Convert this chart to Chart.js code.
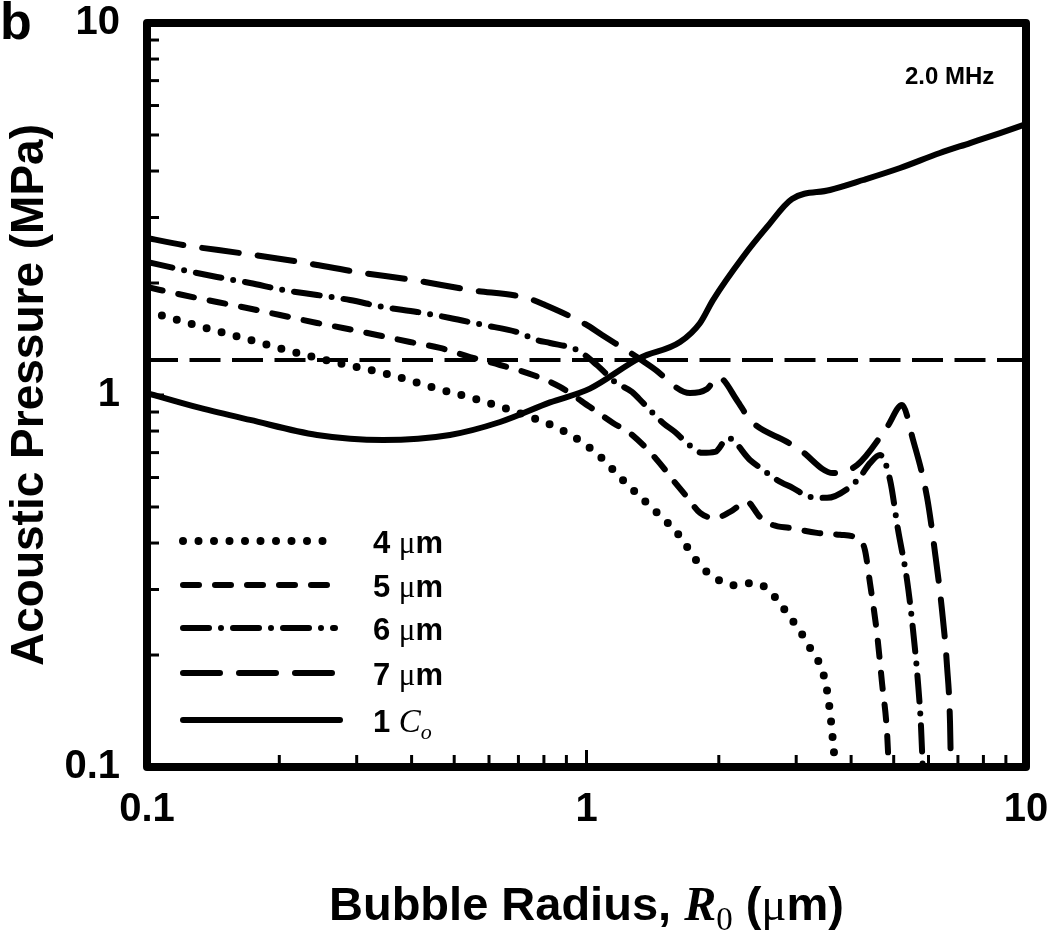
<!DOCTYPE html>
<html>
<head>
<meta charset="utf-8">
<script src="https://cdn.jsdelivr.net/npm/chart.js@4.4.1/dist/chart.umd.min.js"></script>
<style>
  html, body { margin: 0; padding: 0; background: #fff; }
  canvas { display: block; }
</style>
</head>
<body>
<canvas id="chart" width="1050" height="935"></canvas>
<script>
// tick values
const majorTicks = [0.1, 1, 10];
const minorTicks = [0.2, 0.3, 0.4, 0.5, 0.6, 0.7, 0.8, 0.9, 2, 3, 4, 5, 6, 7, 8, 9];

// 4 um (dotted)
const r4 = [0.1, 0.1286, 0.1653, 0.2115, 0.2720, 0.3516, 0.4521, 0.5784, 0.7437, 0.8796, 1.045, 1.224, 1.409, 1.607, 1.813, 1.961, 2.177, 2.355, 2.508, 2.904, 3.225, 3.489, 3.581, 3.638, 3.696];
const p4 = [1.681, 1.543, 1.423, 1.313, 1.219, 1.139, 1.044, 0.964, 0.873, 0.805, 0.703, 0.583, 0.497, 0.426, 0.349, 0.322, 0.308, 0.312, 0.308, 0.253, 0.209, 0.171, 0.141, 0.117, 0.095];

// 5 um (short dash)
const r5 = [0.1, 0.1207, 0.1443, 0.1689, 0.2007, 0.2437, 0.2792, 0.3336, 0.3967, 0.4642, 0.5432, 0.6357, 0.7556, 0.8706, 1.019, 1.149, 1.256, 1.447, 1.573, 1.693, 1.813, 1.961, 2.121, 2.319, 2.482, 2.657, 2.904, 3.345, 3.774, 4.19, 4.30, 4.416, 4.58, 4.704, 4.83, 4.88];
const p5 = [1.951, 1.857, 1.778, 1.714, 1.641, 1.562, 1.514, 1.450, 1.388, 1.338, 1.265, 1.204, 1.132, 1.051, 0.928, 0.841, 0.790, 0.669, 0.591, 0.532, 0.482, 0.467, 0.485, 0.516, 0.470, 0.447, 0.439, 0.426, 0.421, 0.408, 0.383, 0.312, 0.229, 0.168, 0.123, 0.095];

// 6 um (dash-dot)
const r6 = [0.1, 0.1207, 0.1443, 0.1716, 0.2039, 0.2437, 0.2897, 0.3443, 0.4115, 0.4891, 0.5814, 0.695, 0.7716, 0.826, 0.951, 1.056, 1.161, 1.269, 1.345, 1.493, 1.590, 1.693, 1.832, 1.961, 2.099, 2.355, 2.521, 2.713, 2.951, 3.225, 3.526, 3.977, 4.19, 4.416, 4.655, 4.905, 5.115, 5.362, 5.534, 5.68, 5.77, 5.83];
const p6 = [2.278, 2.168, 2.076, 2.0, 1.916, 1.857, 1.800, 1.724, 1.672, 1.611, 1.543, 1.477, 1.405, 1.380, 1.321, 1.204, 1.084, 1.019, 0.952, 0.841, 0.795, 0.743, 0.699, 0.703, 0.766, 0.669, 0.629, 0.591, 0.562, 0.532, 0.529, 0.566, 0.602, 0.656, 0.690, 0.591, 0.434, 0.318, 0.233, 0.168, 0.128, 0.095];

// 7 um (long dash)
const r7 = [0.1, 0.1207, 0.1627, 0.2229, 0.3005, 0.4030, 0.5432, 0.732, 0.805, 0.992, 1.085, 1.302, 1.417, 1.720, 1.880, 1.992, 2.212, 2.355, 2.859, 3.060, 3.638, 4.126, 4.83, 5.224, 5.534, 5.953, 6.21, 6.44, 6.613, 6.717, 6.75];
const p7 = [2.642, 2.531, 2.408, 2.278, 2.141, 2.038, 1.916, 1.823, 1.746, 1.552, 1.450, 1.265, 1.182, 1.012, 1.038, 1.118, 0.958, 0.857, 0.748, 0.712, 0.617, 0.648, 0.820, 0.940, 0.757, 0.532, 0.376, 0.264, 0.186, 0.131, 0.095];

// 1 Co (solid)
const rCo = [0.1, 0.132, 0.1716, 0.2437, 0.3443, 0.489, 0.636, 0.826, 1.018, 1.323, 1.632, 1.813, 1.940, 2.270, 2.575, 2.935, 3.581, 4.26, 5.17, 6.37, 7.46, 8.73, 10];
const pCo = [1.012, 0.923, 0.857, 0.781, 0.757, 0.781, 0.846, 0.955, 1.04, 1.258, 1.388, 1.562, 1.80, 2.35, 2.83, 3.365, 3.557, 3.784, 4.076, 4.473, 4.757, 5.06, 5.35];

// threshold (long thin dashes)
const rThr = [0.1, 10];
const pThr = [1.242, 1.242];

const legendNames = ['4', '5', '6', '7', '1'];

const SANS = '"Liberation Sans", Arial, sans-serif';
const SERIF = '"Liberation Serif", "Times New Roman", serif';

function pts(xs, ys) {
  return xs.map((x, i) => ({ x: x, y: ys[i] }));
}

// draws a row of text pieces with different fonts
function drawRuns(ctx, runs, x, y, align) {
  let total = 0;
  runs.forEach(r => { ctx.font = r.font; total += ctx.measureText(r.text).width; });
  let cx = align === 'center' ? x - total / 2 : x;
  ctx.textAlign = 'left';
  ctx.textBaseline = 'alphabetic';
  runs.forEach(r => {
    ctx.font = r.font;
    ctx.fillText(r.text, cx, y + (r.dy || 0));
    cx += ctx.measureText(r.text).width;
  });
}

const framePlugin = {
  id: 'frame',
  afterDraw(chart) {
    const { ctx, chartArea: a } = chart;
    const xs = chart.scales.x, ys = chart.scales.y;
    ctx.save();
    ctx.strokeStyle = '#000';
    ctx.fillStyle = '#000';

    // inward ticks on left and bottom
    ctx.lineWidth = 3;
    ctx.lineCap = 'butt';
    ctx.setLineDash([]);
    const tick = (x1, y1, x2, y2) => { ctx.beginPath(); ctx.moveTo(x1, y1); ctx.lineTo(x2, y2); ctx.stroke(); };
    minorTicks.forEach(v => {
      const px = xs.getPixelForValue(v);
      tick(px, a.bottom, px, a.bottom - 12);
      const py = ys.getPixelForValue(v);
      tick(a.left, py, a.left + 12, py);
    });
    majorTicks.forEach(v => {
      const px = xs.getPixelForValue(v);
      tick(px, a.bottom, px, a.bottom - 17);
      const py = ys.getPixelForValue(v);
      tick(a.left, py, a.left + 17, py);
    });

    // frame
    ctx.lineWidth = 8;
    ctx.lineJoin = 'round';
    ctx.strokeRect(a.left, a.top, a.right - a.left, a.bottom - a.top);

    // legend
    const rows = [541, 585, 628, 673, 720];
    chart.data.datasets.slice(0, 5).forEach((ds, i) => {
      ctx.lineWidth = ds.borderWidth;
      ctx.lineCap = 'round';
      ctx.setLineDash(ds.borderDash || []);
      ctx.beginPath();
      ctx.moveTo(183, rows[i]);
      ctx.lineTo(i < 3 ? 335 : 340, rows[i]);
      ctx.stroke();
    });
    ctx.setLineDash([]);
    const bold = 'bold 31px ' + SANS;
    legendNames.forEach((n, i) => {
      const base = rows[i] + 12;
      if (i < 4) {
        drawRuns(ctx, [
          { text: n + ' ', font: bold },
          { text: 'μ', font: '31px ' + SERIF },
          { text: 'm', font: bold }
        ], 373, base, 'left');
      } else {
        drawRuns(ctx, [
          { text: n + ' ', font: bold },
          { text: 'C', font: 'italic 33px ' + SERIF },
          { text: 'o', font: 'italic 22px ' + SERIF, dy: 7 }
        ], 373, base, 'left');
      }
    });

    // frequency label
    ctx.font = 'bold 24px ' + SANS;
    ctx.textAlign = 'left';
    ctx.textBaseline = 'alphabetic';
    ctx.fillText('2.0 MHz', 905, 84);

    // panel letter
    ctx.font = 'bold 52px ' + SANS;
    ctx.fillText('b', 0, 39);

    // x title
    const xb = 'bold 47px ' + SANS;
    drawRuns(ctx, [
      { text: 'Bubble Radius, ', font: xb },
      { text: 'R', font: 'italic bold 48px ' + SERIF },
      { text: '0', font: '33px ' + SERIF, dy: 10 },
      { text: ' (', font: xb },
      { text: 'μ', font: '47px ' + SERIF },
      { text: 'm)', font: xb }
    ], (a.left + a.right) / 2, 920, 'center');

    // y title
    ctx.save();
    ctx.translate(43, (a.top + a.bottom) / 2);
    ctx.rotate(-Math.PI / 2);
    ctx.font = 'bold 46px ' + SANS;
    ctx.textAlign = 'center';
    ctx.textBaseline = 'alphabetic';
    ctx.fillText('Acoustic Pressure (MPa)', 0, 0);
    ctx.restore();

    ctx.restore();
  }
};

const tickFont = { family: SANS, size: 40, weight: 'bold', lineHeight: 1.15 };

new Chart(document.getElementById('chart'), {
  type: 'line',
  data: {
    datasets: [
      { label: '4 μm', data: pts(r4, p4), borderColor: '#000', borderWidth: 8, borderDash: [0, 15.5] },
      { label: '5 μm', data: pts(r5, p5), borderColor: '#000', borderWidth: 6, borderDash: [16, 16] },
      { label: '6 μm', data: pts(r6, p6), borderColor: '#000', borderWidth: 6, borderDash: [26, 12, 0, 12] },
      { label: '7 μm', data: pts(r7, p7), borderColor: '#000', borderWidth: 6, borderDash: [37, 19] },
      { label: '1 Co', data: pts(rCo, pCo), borderColor: '#000', borderWidth: 6 },
      { label: 'threshold', data: pts(rThr, pThr), borderColor: '#000', borderWidth: 4, borderDash: [31, 11.5], borderCapStyle: 'butt' }
    ]
  },
  options: {
    responsive: false,
    animation: false,
    layout: { padding: { top: 23, right: 24, left: 0, bottom: 0 } },
    plugins: { legend: { display: false }, tooltip: { enabled: false } },
    elements: {
      point: { radius: 0 },
      line: { cubicInterpolationMode: 'monotone', borderCapStyle: 'round', borderJoinStyle: 'round', fill: false }
    },
    scales: {
      x: {
        type: 'logarithmic', min: 0.1, max: 10,
        grid: { display: false, drawTicks: false },
        border: { display: false },
        afterBuildTicks: s => { s.ticks = majorTicks.map(v => ({ value: v })); },
        afterFit: s => { s.height = 168; s.paddingLeft = 0; s.paddingRight = 0; },
        ticks: { autoSkip: false, maxRotation: 0, padding: 20, color: '#000', font: tickFont, callback: v => String(v) }
      },
      y: {
        type: 'logarithmic', min: 0.1, max: 10,
        grid: { display: false, drawTicks: false },
        border: { display: false },
        afterBuildTicks: s => { s.ticks = majorTicks.map(v => ({ value: v })); },
        afterFit: s => { s.width = 147; s.paddingTop = 0; s.paddingBottom = 0; },
        ticks: { autoSkip: false, padding: 27, color: '#000', font: tickFont, callback: v => String(v) }
      }
    }
  },
  plugins: [framePlugin]
});
</script>
</body>
</html>
